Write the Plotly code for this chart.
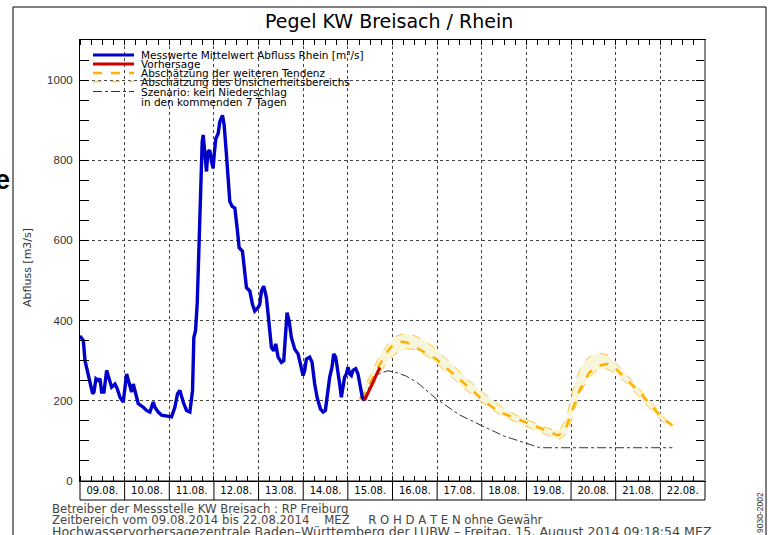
import numpy as np
import pandas as pd
import plotly.graph_objects as go

BASE = pd.Timestamp("2014-08-09 00:00")

# measured discharge (days since 09.08.2014 00:00, m3/s)
meas_day = [0.000, 0.075, 0.112, 0.186, 0.224, 0.283, 0.313, 0.358, 0.410, 0.447, 0.485, 0.537,
            0.597, 0.634, 0.708, 0.783, 0.835, 0.895, 0.969, 1.044, 1.104, 1.156, 1.193, 1.253,
            1.305, 1.417, 1.491, 1.566, 1.641, 1.678, 1.752, 1.827, 1.939, 2.051, 2.125, 2.185,
            2.237, 2.312, 2.386, 2.461, 2.521, 2.550, 2.588, 2.625, 2.662, 2.699, 2.737, 2.759,
            2.796, 2.834, 2.864, 2.908, 2.946, 2.983, 3.005, 3.043, 3.095, 3.132, 3.192, 3.229,
            3.281, 3.318, 3.356, 3.408, 3.468, 3.520, 3.565, 3.639, 3.691, 3.729, 3.803, 3.863,
            3.915, 3.990, 4.027, 4.064, 4.116, 4.176, 4.228, 4.288, 4.340, 4.385, 4.437, 4.512,
            4.564, 4.601, 4.638, 4.683, 4.735, 4.810, 4.884, 4.937, 4.996, 5.034, 5.071, 5.145,
            5.198, 5.257, 5.310, 5.384, 5.444, 5.496, 5.533, 5.593, 5.645, 5.682, 5.727, 5.779,
            5.817, 5.854, 5.891, 5.928, 5.966, 6.003, 6.040, 6.078, 6.115, 6.175, 6.227, 6.264,
            6.324, 6.376]
meas_val = [362, 350, 300, 267, 242, 218, 222, 255, 251, 255, 222, 222,
            276, 263, 234, 242, 230, 209, 197, 267, 242, 222, 242, 218,
            193, 184, 176, 172, 197, 184, 172, 164, 161, 160, 184, 218,
            226, 197, 176, 172, 226, 358, 375, 441, 573, 739, 846, 863,
            805, 772, 821, 825, 796, 780, 813, 854, 867, 896, 912, 888,
            813, 755, 697, 685, 681, 631, 582, 573, 507, 482, 474, 441,
            424, 433, 441, 474, 486, 457, 400, 333, 325, 342, 309, 296,
            300, 375, 420, 400, 358, 329, 317, 292, 263, 276, 304, 309,
            296, 242, 209, 180, 172, 176, 209, 259, 284, 317, 309, 276,
            242, 209, 242, 259, 267, 284, 267, 263, 276, 280, 267, 242,
            209, 201]

# forecast (red)
fc_day = [6.376, 6.45, 6.55, 6.65, 6.72]
fc_val = [201, 220, 245, 268, 283]

# estimated further tendency (orange dashed)
tend_day = [6.28, 6.50, 6.71, 6.90, 7.01, 7.20, 7.31, 7.53, 7.98, 8.28, 8.58, 8.87, 9.02, 9.40,
            9.77, 10.14, 10.51, 10.70, 10.85, 11.00, 11.19, 11.41, 11.63, 11.82, 12.00, 12.23,
            12.53, 12.83, 13.05, 13.27]
tend_val = [203, 245, 290, 325, 340, 347, 346, 333, 304, 275, 246, 218, 201, 172,
            156, 139, 122, 114, 122, 168, 226, 271, 288, 292, 280, 255,
            222, 184, 156, 139]

# uncertainty band
band_day = [6.25, 6.50, 6.70, 6.90, 7.10, 7.30, 7.50, 7.80, 8.00, 8.30, 8.60, 8.90, 9.20, 9.50,
            9.80, 10.10, 10.40, 10.60, 10.75, 10.90, 11.05, 11.20, 11.40, 11.60, 11.80, 12.00,
            12.30, 12.60, 12.90, 13.10, 13.27]
band_hi = [205, 262, 310, 342, 362, 368, 362, 345, 325, 295, 262, 232, 205, 180,
           163, 148, 135, 127, 128, 160, 230, 280, 310, 320, 315, 295,
           258, 220, 183, 155, 142]
band_lo = [200, 225, 266, 300, 320, 330, 328, 310, 292, 262, 232, 205, 180, 160,
           145, 132, 118, 108, 105, 118, 165, 220, 258, 278, 280, 268,
           238, 200, 165, 142, 132]

# scenario: no precipitation in the next 7 days
scen_day = [6.34, 6.45, 6.56, 6.71, 6.90, 7.10, 7.30, 7.55, 7.98, 8.50, 9.00, 9.50, 10.00, 10.30,
            11.00, 12.00, 13.27]
scen_val = [201, 228, 250, 268, 275, 270, 262, 246, 205, 165, 138, 112, 94, 83,
            83, 83, 83]

legend_labels = ["Messwerte Mittelwert Abfluss Rhein [m³/s]", "Vorhersage",
                 "Abschätzung der weiteren Tendenz", "Abschätzung des Unsicherheitsbereichs",
                 "Szenario: kein Niederschlag", "in den kommenden 7 Tagen"]
footer_lines = ["Betreiber der Messstelle KW Breisach : RP Freiburg",
                "Zeitbereich vom 09.08.2014 bis 22.08.2014    MEZ     R O H D A T E N ohne Gewähr",
                "Hochwasservorhersagezentrale Baden–Württemberg der LUBW – Freitag, 15. August 2014 09:18:54 MEZ"]
footer_sizes = [11.7, 11.7, 12.6]
n_days = 14


def t(days):
    return BASE + pd.to_timedelta(np.asarray(days, dtype=float), unit="D")


FONT = "Liberation Sans"
WIDE = "DejaVu Sans"
fig = go.Figure()

fig.add_trace(go.Scatter(x=t(band_day), y=band_hi, mode="lines",
                         line=dict(color="#FFC640", width=1, dash="dash"), showlegend=False))
fig.add_trace(go.Scatter(x=t(band_day), y=band_lo, mode="lines", fill="tonexty",
                         fillcolor="rgb(247,245,218)",
                         line=dict(color="#FFC640", width=1, dash="dash"), showlegend=False))
fig.add_trace(go.Scatter(x=t(scen_day), y=scen_val, mode="lines",
                         line=dict(color="#333333", width=1, dash="dashdot"), showlegend=False))
fig.add_trace(go.Scatter(x=t(tend_day), y=tend_val, mode="lines",
                         line=dict(color="#FFB000", width=2.5, dash="dash"), showlegend=False))
fig.add_trace(go.Scatter(x=t(meas_day), y=meas_val, mode="lines",
                         line=dict(color="#0000C8", width=3.4), showlegend=False))
fig.add_trace(go.Scatter(x=t(fc_day), y=fc_val, mode="lines",
                         line=dict(color="#CC0000", width=3), showlegend=False))

L, R, T, B = 80, 63, 40, 54
W, H = 768, 535
pw, ph = W - L - R, H - T - B


def px(x):
    return (x - L) / pw


def py(y):
    return (H - B - y) / ph


shapes = []
# outer frame
shapes.append(dict(type="rect", xref="paper", yref="paper", x0=px(13), x1=px(766),
                   y0=py(545), y1=py(7), line=dict(color="black", width=1)))
# date label boxes
shapes.append(dict(type="rect", xref="x domain", yref="paper", x0=0, x1=1,
                   y0=py(500), y1=0, line=dict(color="black", width=1)))
for d in range(1, n_days):
    xd = BASE + pd.Timedelta(days=d)
    shapes.append(dict(type="line", xref="x", yref="paper", x0=xd, x1=xd,
                       y0=py(500), y1=0, line=dict(color="black", width=1)))
# right axis line (grey)
shapes.append(dict(type="line", xref="x domain", yref="paper", x0=1, x1=1, y0=0, y1=1,
                   line=dict(color="#888888", width=2)))

# manual legend
leg_rows = [py(55), py(64), py(73), py(81.5), py(91.5), py(101.5)]
leg_styles = [dict(color="#0000C8", width=3), dict(color="#CC0000", width=3),
              dict(color="#FFB000", width=2.5, dash="dash"),
              dict(color="#FFC640", width=1.5, dash="dash"),
              dict(color="#333333", width=1, dash="dashdot")]
for yy, st in zip(leg_rows[:5], leg_styles):
    shapes.append(dict(type="line", xref="paper", yref="paper", x0=px(93), x1=px(134),
                       y0=yy, y1=yy, line=st))

annotations = []
for yy, txt in zip(leg_rows, legend_labels):
    annotations.append(dict(text=txt, xref="paper", yref="paper", x=px(139), y=yy,
                            xanchor="left", yanchor="middle", showarrow=False,
                            font=dict(family=WIDE, size=10.5, color="black")))
# title
annotations.append(dict(text="Pegel KW Breisach / Rhein", xref="paper", yref="paper",
                        x=px(389), y=py(21), xanchor="center", yanchor="middle",
                        showarrow=False, font=dict(family=WIDE, size=19, color="black")))
# y title
annotations.append(dict(text="Abfluss [m3/s]", xref="paper", yref="paper", x=px(27), y=py(268),
                        xanchor="center", yanchor="middle", textangle=-90, showarrow=False,
                        font=dict(family=WIDE, size=11, color="#333333")))
# footer
for yy, txt, fs in zip([509, 520, 531], footer_lines, footer_sizes):
    annotations.append(dict(text=txt, xref="paper", yref="paper", x=px(50), y=py(yy),
                            xanchor="left", yanchor="middle", showarrow=False,
                            font=dict(family=WIDE, size=fs, color="#444444")))
# right vertical code
annotations.append(dict(text="9030-2002", xref="paper", yref="paper", x=px(760), y=py(513),
                        xanchor="center", yanchor="middle", textangle=-90, showarrow=False,
                        font=dict(family=FONT, size=8.5, color="#333333")))
# stray "e" from surrounding page
annotations.append(dict(text="<b>e</b>", xref="paper", yref="paper", x=px(2), y=py(180),
                        xanchor="center", yanchor="middle", showarrow=False,
                        font=dict(family=FONT, size=27, color="black")))

fig.update_layout(
    width=W, height=H,
    margin=dict(l=L, r=R, t=T, b=B, pad=0),
    paper_bgcolor="white", plot_bgcolor="white",
    shapes=shapes, annotations=annotations,
    showlegend=False,
    xaxis=dict(
        type="date", range=[BASE, BASE + pd.Timedelta(days=n_days)],
        tick0=BASE, dtick=86400000, tickformat="%d.%m.", ticklabelmode="period",
        ticks="inside", ticklen=5, tickcolor="black",
        showgrid=True, gridcolor="#444444", griddash="dot", gridwidth=1,
        showline=True, linecolor="black", linewidth=1, mirror="ticks",
        zeroline=False,
        minor=dict(dtick=6 * 3600 * 1000, ticks="inside", ticklen=5, tickcolor="black",
                   showgrid=False),
        tickfont=dict(family=WIDE, size=10, color="black"),
    ),
    yaxis=dict(
        range=[0, 1100], tickvals=[0, 200, 400, 600, 800, 1000],
        ticks="inside", ticklen=9, tickcolor="black",
        showgrid=True, gridcolor="#444444", griddash="dot", gridwidth=1,
        showline=True, linecolor="black", linewidth=1, mirror="ticks",
        zeroline=False,
        minor=dict(dtick=50, ticks="inside", ticklen=9, tickcolor="black", showgrid=False),
        tickfont=dict(family=FONT, size=11.5, color="#333333"),
        ticklabelstandoff=4,
    ),
)

fig.write_html("out.html", config={"displayModeBar": False},
               post_script="document.body.style.margin='0';document.body.style.overflow='hidden';")
